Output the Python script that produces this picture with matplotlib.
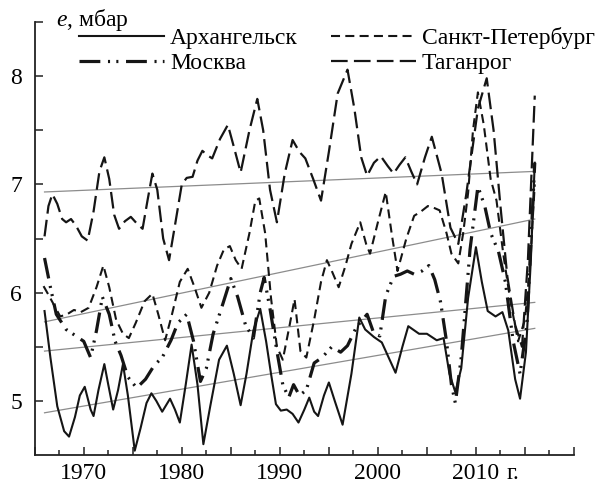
import matplotlib
matplotlib.use("Agg")
import matplotlib.pyplot as plt
from matplotlib.ticker import FixedLocator

plt.rcParams['font.family'] = ['Liberation Serif', 'DejaVu Serif']
plt.rcParams['mathtext.fontset'] = 'custom'
plt.rcParams['mathtext.it'] = 'Liberation Serif:italic'
plt.rcParams['mathtext.rm'] = 'Liberation Serif'
plt.rcParams['lines.scale_dashes'] = False

# -----------------------------
# data (year, e in mbar)
# -----------------------------
arh_years = [1966.0, 1966.6, 1967.3, 1968.0, 1968.5, 1969.1, 1969.6, 1970.1, 1970.7, 1971.0,
             1971.5, 1972.1, 1972.5, 1973.0, 1973.5, 1974.0, 1974.5, 1975.2, 1975.8, 1976.4,
             1976.9, 1977.4, 1978.0, 1978.8, 1979.3, 1979.8, 1980.4, 1981.0, 1981.6, 1982.2,
             1982.9, 1983.8, 1984.6, 1985.3, 1986.0, 1986.6, 1987.3, 1988.0, 1988.6, 1989.1,
             1989.6, 1990.1, 1990.7, 1991.3, 1991.9, 1992.5, 1993.0, 1993.5, 1993.9, 1994.5,
             1995.0, 1995.6, 1996.4, 1997.3, 1998.1, 1998.7, 1999.6, 2000.4, 2001.1, 2001.8,
             2002.5, 2003.1, 2004.2, 2005.0, 2006.0, 2006.7, 2007.3, 2007.9, 2008.5, 2009.2,
             2010.0, 2010.6, 2011.2, 2012.0, 2012.7, 2013.3, 2014.0, 2014.5, 2015.1, 2015.6,
             2016.0]
arh_vals = [5.83, 5.40, 4.95, 4.72, 4.67, 4.85, 5.05, 5.13, 4.92, 4.86,
            5.10, 5.34, 5.15, 4.92, 5.10, 5.34, 5.05, 4.54, 4.75, 4.98,
            5.07, 5.00, 4.90, 5.02, 4.92, 4.80, 5.15, 5.52, 5.15, 4.60,
            4.95, 5.38, 5.51, 5.25, 4.96, 5.25, 5.65, 5.85, 5.55, 5.25,
            4.97, 4.91, 4.92, 4.88, 4.80, 4.92, 5.03, 4.90, 4.86, 5.05,
            5.17, 5.00, 4.78, 5.25, 5.77, 5.66, 5.59, 5.54, 5.40, 5.26,
            5.50, 5.69, 5.62, 5.62, 5.56, 5.58, 5.25, 5.08, 5.30, 5.95,
            6.42, 6.10, 5.83, 5.78, 5.82, 5.65, 5.20, 5.02, 5.45, 6.30,
            7.20]

spb_years = [1965.9, 1966.4, 1967.0, 1967.6, 1968.3, 1969.0, 1969.7, 1970.5, 1971.3, 1972.0,
             1972.6, 1973.3, 1974.0, 1974.6, 1975.3, 1976.2, 1977.0, 1977.6, 1978.3, 1979.0,
             1979.8, 1980.6, 1981.3, 1982.0, 1982.8, 1983.6, 1984.3, 1984.9, 1985.5, 1986.1,
             1986.9, 1987.5, 1987.9, 1988.5, 1989.1, 1989.7, 1990.3, 1991.0, 1991.5, 1992.1,
             1992.7, 1993.5, 1994.2, 1994.8, 1995.3, 1996.0, 1996.7, 1997.3, 1998.2, 1998.8,
             1999.2, 2000.0, 2000.8, 2001.4, 2002.0, 2002.9, 2003.7, 2004.4, 2005.1, 2005.8,
             2006.3, 2007.0, 2007.5, 2008.2, 2008.7, 2009.2, 2009.7, 2010.2, 2010.8, 2011.5,
             2012.1, 2012.8, 2013.5, 2014.3, 2015.0, 2015.5, 2016.0]
spb_vals = [6.06, 5.98, 5.88, 5.78, 5.80, 5.84, 5.82, 5.86, 6.05, 6.25,
            6.05, 5.75, 5.62, 5.58, 5.72, 5.92, 5.99, 5.80, 5.56, 5.80,
            6.10, 6.22, 6.05, 5.86, 6.00, 6.25, 6.40, 6.43, 6.30, 6.22,
            6.55, 6.85, 6.87, 6.55, 5.95, 5.50, 5.38, 5.70, 5.94, 5.46,
            5.40, 5.75, 6.10, 6.30, 6.20, 6.05, 6.25, 6.45, 6.65, 6.45,
            6.36, 6.65, 6.93, 6.55, 6.20, 6.50, 6.71, 6.75, 6.80, 6.78,
            6.76, 6.55, 6.36, 6.27, 6.55, 6.92, 7.50, 7.85, 7.55, 7.05,
            6.85, 6.35, 5.93, 5.55, 5.75, 6.23, 7.00]

msk_years = [1966.0, 1966.6, 1967.2, 1968.2, 1969.2, 1970.0, 1970.7, 1971.3, 1971.9, 1972.6,
             1973.2, 1973.8, 1974.5, 1975.4, 1976.3, 1977.2, 1978.0, 1978.9, 1979.6, 1980.5,
             1981.2, 1981.9, 1982.5, 1983.2, 1984.2, 1985.0, 1985.7, 1986.5, 1987.3, 1988.0,
             1988.4, 1989.0, 1989.7, 1990.3, 1990.9, 1991.4, 1992.0, 1992.7, 1993.5, 1994.3,
             1995.3, 1996.2, 1996.9, 1997.8, 1998.9, 1999.6, 2000.2, 2000.8, 2001.6, 2002.3,
             2003.0, 2003.7, 2004.5, 2005.2, 2005.8, 2006.4, 2007.0, 2007.5, 2007.9, 2008.5,
             2009.4, 2010.2, 2010.9, 2011.5, 2012.3, 2013.0, 2013.8, 2014.5, 2015.2, 2016.0]
msk_vals = [6.32, 6.05, 5.80, 5.66, 5.60, 5.55, 5.40, 5.65, 5.96, 5.80,
            5.55, 5.42, 5.22, 5.12, 5.20, 5.33, 5.40, 5.56, 5.72, 5.80,
            5.55, 5.18, 5.30, 5.62, 5.90, 6.13, 5.96, 5.70, 5.58, 6.00,
            6.14, 5.85, 5.46, 5.15, 5.03, 5.15, 5.05, 5.10, 5.35, 5.40,
            5.50, 5.45, 5.51, 5.68, 5.80, 5.62, 5.60, 5.97, 6.15, 6.17,
            6.20, 6.17, 6.20, 6.25, 6.12, 5.91, 5.55, 5.15, 4.98, 5.40,
            6.40, 6.98, 6.80, 6.55, 6.38, 6.10, 5.55, 5.25, 5.70, 7.20]

tag_years = [1966.0, 1966.4, 1966.8, 1967.3, 1967.8, 1968.2, 1968.7, 1969.2, 1969.8, 1970.4,
             1971.0, 1971.6, 1972.1, 1972.6, 1973.1, 1973.6, 1974.2, 1974.8, 1975.4, 1976.0,
             1976.5, 1977.0, 1977.5, 1978.1, 1978.7, 1979.3, 1980.0, 1980.5, 1981.1, 1981.6,
             1982.1, 1982.6, 1983.1, 1983.9, 1984.7, 1985.3, 1986.0, 1986.9, 1987.7, 1988.3,
             1989.0, 1989.7, 1990.5, 1991.3, 1992.0, 1992.6, 1993.4, 1994.2, 1995.0, 1995.9,
             1996.9, 1997.6, 1998.3, 1998.9, 1999.6, 2000.3, 2001.0, 2001.6, 2002.2, 2002.8,
             2003.4, 2004.0, 2004.8, 2005.5, 2006.5, 2007.4, 2008.2, 2009.0, 2010.2, 2011.1,
             2011.8, 2012.5, 2013.2, 2014.0, 2014.7, 2015.3, 2016.0]
tag_vals = [6.52, 6.80, 6.91, 6.82, 6.68, 6.65, 6.68, 6.62, 6.52, 6.48,
            6.75, 7.12, 7.25, 7.05, 6.72, 6.59, 6.66, 6.70, 6.64, 6.59,
            6.85, 7.10, 6.95, 6.50, 6.30, 6.62, 7.00, 7.06, 7.07, 7.22,
            7.31, 7.27, 7.24, 7.42, 7.55, 7.35, 7.11, 7.50, 7.79, 7.50,
            6.95, 6.65, 7.10, 7.41, 7.30, 7.24, 7.05, 6.85, 7.30, 7.84,
            8.06, 7.70, 7.25, 7.08, 7.20, 7.26, 7.17, 7.10, 7.18, 7.25,
            7.12, 7.00, 7.25, 7.44, 7.10, 6.60, 6.45, 6.90, 7.70, 7.98,
            7.50, 6.80, 6.15, 5.70, 5.50, 6.30, 7.82]

# linear trends (start and end of period)
trend_years = [1966, 2016]
arh_trend = [4.89, 5.67]
spb_trend = [5.73, 6.68]
msk_trend = [5.46, 5.91]
tag_trend = [6.93, 7.12]

labels = ["Архангельск", "Санкт-Петербург", "Москва", "Таганрог"]
x_major = [1965, 1970, 1975, 1980, 1985, 1990, 1995, 2000, 2005, 2010, 2015, 2020]
x_minor = [1967.5, 1972.5, 1977.5, 1982.5, 1987.5, 1992.5, 1997.5, 2002.5, 2007.5,
           2012.5, 2017.5]
x_labels = {1970: "1970", 1980: "1980", 1990: "1990", 2000: "2000", 2010: "2010"}
y_ticks = [5, 6, 7, 8]
y_minor = [5.5, 6.5, 7.5, 8.5]

# -----------------------------
# figure
# -----------------------------
fs = 17
fig = plt.figure(figsize=(6.04, 4.84), dpi=100)
ax = fig.add_axes([0.0575, 0.0599, 0.8928, 0.8946])

ink = "#151515"
grey = "#8c8c8c"

for tr in (arh_trend, spb_trend, msk_trend, tag_trend):
    ax.plot(trend_years, tr, color=grey, lw=0.9, zorder=1)

l_arh, = ax.plot(arh_years, arh_vals, color=ink, lw=1.5, zorder=3)
l_spb, = ax.plot(spb_years, spb_vals, color=ink, lw=1.5,
                 dashes=(6.5, 3.8), zorder=3)
l_msk, = ax.plot(msk_years, msk_vals, color=ink, lw=2.3,
                 dashes=(15, 5.5, 1.5, 4.5, 1.5, 5.5), zorder=3)
l_tag, = ax.plot(tag_years, tag_vals, color=ink, lw=1.6,
                 dashes=(12, 4.5), zorder=3)

ax.set_xlim(1965, 2020)
ax.set_ylim(4.5, 8.5)

for side in ("top", "right"):
    ax.spines[side].set_visible(False)
for side in ("left", "bottom"):
    ax.spines[side].set_linewidth(1.3)
    ax.spines[side].set_color("#222222")

ax.set_xticks(x_major, [x_labels.get(t, "") for t in x_major])
ax.xaxis.set_minor_locator(FixedLocator(x_minor))
ax.set_yticks(y_ticks, [str(t) for t in y_ticks])
ax.yaxis.set_minor_locator(FixedLocator(y_minor))

ax.tick_params(axis="x", which="major", direction="in", length=6, width=1.1,
               pad=6, labelsize=fs, color="#222222")
ax.tick_params(axis="x", which="minor", direction="in", length=3.5, width=1.1,
               color="#222222")
ax.tick_params(axis="y", which="both", direction="in", length=6, width=1.1,
               pad=9, labelsize=fs, color="#222222")

# "г." after the last year label
ax.annotate("г.", xy=(2010, 0), xycoords=("data", "axes fraction"),
            xytext=(22, -6), textcoords="offset points",
            ha="left", va="top", fontsize=fs)

# axis title
fig.text(56 / 604, 1 - 26 / 484, "$e$, мбар", fontsize=fs, va="baseline")

# legend
ax.legend([l_arh, l_msk, l_spb, l_tag],
          [labels[0], labels[2], labels[1], labels[3]],
          ncol=2, loc="upper left", bbox_to_anchor=(79 / 604, 1 - 27 / 484),
          bbox_transform=fig.transFigure, frameon=False, borderpad=0,
          borderaxespad=0, handlelength=3.6, handletextpad=0.25,
          columnspacing=1.4, labelspacing=0.16, fontsize=fs)

fig.savefig("out.png", dpi=100)
